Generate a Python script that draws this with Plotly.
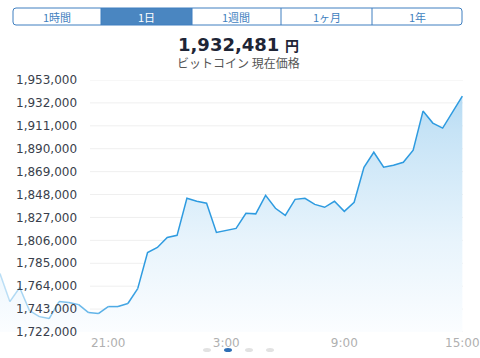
import plotly.graph_objects as go
import pandas as pd

# ---------------- data ----------------
start_time = "2018-01-01 15:30"
prices = [
    1775600, 1749900, 1762800, 1741600, 1736100, 1734300, 1749900, 1749000,
    1747100, 1739800, 1738900, 1745300, 1745300, 1748100, 1761800, 1794900,
    1799500, 1808700, 1810600, 1844600, 1841800, 1840000, 1813300, 1815200,
    1817000, 1830800, 1830300, 1847300, 1835400, 1828900, 1843600, 1844600,
    1839000, 1836300, 1841800, 1832600, 1840900, 1873000, 1886800, 1873000,
    1874900, 1877600, 1888700, 1924500, 1913500, 1908900, 1923600, 1938300,
]
times = pd.date_range(start_time, periods=len(prices), freq="30min")

y_ticks = [1722000, 1743000, 1764000, 1785000, 1806000, 1827000,
           1848000, 1869000, 1890000, 1911000, 1932000, 1953000]
y_tick_text = ["1,722,000", "1,743,000", "1,764,000", "1,785,000", "1,806,000", "1,827,000",
               "1,848,000", "1,869,000", "1,890,000", "1,911,000", "1,932,000", "1,953,000"]
x_tick_times = ["2018-01-01 21:00", "2018-01-02 03:00", "2018-01-02 09:00", "2018-01-02 15:00"]
x_tick_text = ["21:00", "3:00", "9:00", "15:00"]

segments = ["1時間", "1日", "1週間", "1ヶ月", "1年"]
selected_segment = 1
current_price = "1,932,481"
currency = "円"
subtitle = "ビットコイン 現在価格"

# ---------------- layout helpers (pixel -> paper) ----------------
W, H = 480, 358
L, R, T, B = 0, 17, 80, 26
PW, PH = W - L - R, H - T - B


def px(x):
    return (x - L) / PW


def py(y):
    return (H - B - y) / PH


LINE = "rgb(46,155,224)"
ACCENT = "#3f7fc0"

fig = go.Figure()

# gradient area
fig.add_trace(go.Scatter(
    x=times, y=prices, mode="lines", line=dict(width=0, color=LINE),
    fill="tozeroy",
    fillgradient=dict(type="vertical", start=y_ticks[0], stop=y_ticks[-1],
                      colorscale=[[0, "#fbfdff"], [0.36, "#e8f4fc"],
                                  [0.8, "#c6e3f6"], [1, "#aed7f2"]]),
    hoverinfo="skip", showlegend=False))

# faded beginning of the line
fade_n = 14
for i in range(fade_n):
    a = 0.3 + 0.7 * i / fade_n
    fig.add_trace(go.Scatter(
        x=times[i:i + 2], y=prices[i:i + 2], mode="lines",
        line=dict(color=f"rgba(46,155,224,{a:.2f})", width=1.5),
        hoverinfo="skip", showlegend=False))

fig.add_trace(go.Scatter(
    x=times[fade_n:], y=prices[fade_n:], mode="lines",
    line=dict(color=LINE, width=1.5), showlegend=False))

shapes = []
# gridlines
for v in y_ticks:
    shapes.append(dict(type="line", xref="paper", yref="y", x0=px(90), x1=1,
                       y0=v, y1=v, line=dict(color="#efefef", width=1), layer="below"))

# segmented control
x_edges = [13, 101, 192, 281, 372, 462]
y_top, y_bot = 8, 25
sx = x_edges[selected_segment]
ex = x_edges[selected_segment + 1]
shapes.append(dict(type="rect", xref="paper", yref="paper",
                   x0=px(sx), x1=px(ex), y0=py(y_bot), y1=py(y_top),
                   fillcolor="#4a86c1", line=dict(width=0)))
r = 3
x0, x1 = x_edges[0], x_edges[-1]
path = (f"M {px(x0 + r)},{py(y_top)} L {px(x1 - r)},{py(y_top)} "
        f"Q {px(x1)},{py(y_top)} {px(x1)},{py(y_top + r)} "
        f"L {px(x1)},{py(y_bot - r)} Q {px(x1)},{py(y_bot)} {px(x1 - r)},{py(y_bot)} "
        f"L {px(x0 + r)},{py(y_bot)} Q {px(x0)},{py(y_bot)} {px(x0)},{py(y_bot - r)} "
        f"L {px(x0)},{py(y_top + r)} Q {px(x0)},{py(y_top)} {px(x0 + r)},{py(y_top)} Z")
shapes.append(dict(type="path", xref="paper", yref="paper", path=path,
                   line=dict(color=ACCENT, width=1)))
for xe in x_edges[1:-1]:
    shapes.append(dict(type="line", xref="paper", yref="paper",
                       x0=px(xe), x1=px(xe), y0=py(y_bot), y1=py(y_top),
                       line=dict(color=ACCENT, width=1)))

# page dots
dot_x = [207, 228, 249, 270]
for k, dx in enumerate(dot_x):
    shapes.append(dict(type="circle", xref="paper", yref="paper",
                       x0=px(dx - 4), x1=px(dx + 4), y0=py(352), y1=py(348),
                       fillcolor="#2f6fb5" if k == 1 else "#e2e2e2", line=dict(width=0)))

annotations = []
for k, label in enumerate(segments):
    cx = (x_edges[k] + x_edges[k + 1]) / 2
    annotations.append(dict(
        text=label, xref="paper", yref="paper", x=px(cx), y=py(16.5),
        showarrow=False, xanchor="center", yanchor="middle",
        font=dict(family="Noto Sans CJK JP", size=11,
                  color="white" if k == selected_segment else ACCENT)))

annotations.append(dict(
    text=f"<b>{current_price}</b> <b><span style='font-size:14px'>{currency}</span></b>",
    xref="paper", yref="paper", x=px(238), y=py(44), showarrow=False,
    xanchor="center", yanchor="middle", borderpad=0,
    font=dict(family="DejaVu Sans, Noto Sans CJK JP", size=18, color="#1e2536")))
annotations.append(dict(
    text=subtitle, xref="paper", yref="paper", x=px(238), y=py(62.5), showarrow=False,
    xanchor="center", yanchor="middle", borderpad=0,
    font=dict(family="Noto Sans CJK JP", size=12, color="#555555")))

x_end = times[-1] + pd.Timedelta(minutes=2)

fig.update_layout(
    width=W, height=H,
    margin=dict(l=L, r=R, t=T, b=B, pad=0),
    paper_bgcolor="white", plot_bgcolor="white",
    shapes=shapes, annotations=annotations,
    showlegend=False,
    xaxis=dict(range=[times[0], x_end], tickmode="array",
               tickvals=x_tick_times, ticktext=x_tick_text,
               showgrid=False, zeroline=False, showline=False, ticks="",
               ticklabeloverflow="allow",
               tickfont=dict(family="DejaVu Sans", size=12, color="#b0b0b0"),
               ticklabelstandoff=2),
    yaxis=dict(range=[y_ticks[0], y_ticks[-1]], tickmode="array",
               tickvals=y_ticks, ticktext=y_tick_text,
               showgrid=False, zeroline=False, showline=False, ticks="",
               ticklabelposition="inside", ticklabeloverflow="allow",
               ticklabelstandoff=13,
               tickfont=dict(family="DejaVu Sans", size=12, color="#3a3f4c")),
)

fig.write_html("out.html", config={"displayModeBar": False},
               post_script="document.body.style.margin='0';document.body.style.overflow='hidden';")
